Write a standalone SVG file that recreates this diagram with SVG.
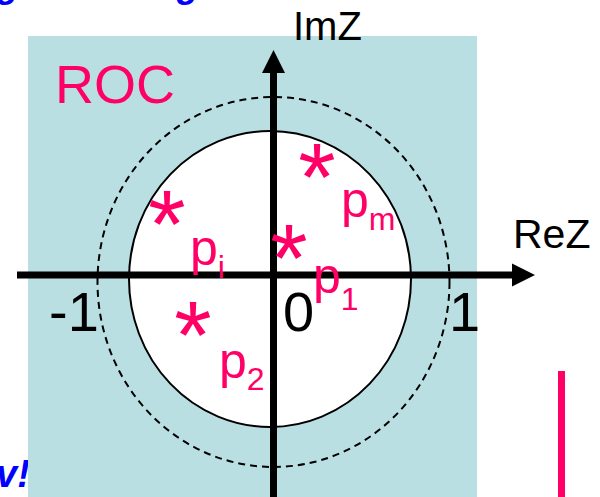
<svg xmlns="http://www.w3.org/2000/svg" width="600" height="497" viewBox="0 0 600 497">
<style>
.pk{fill:#FF0066;font-family:"Liberation Sans",Arial,sans-serif}
.bk{fill:#000;font-family:"Liberation Sans",Arial,sans-serif}
.bl{fill:#0000FF;font-family:"Liberation Sans",Arial,sans-serif;font-weight:bold;font-style:italic}
.star{font-size:96px;text-anchor:middle}
.p{font-size:50px}
.sub{font-size:32px}
.ax{stroke:#000;stroke-width:7;fill:none}
</style>
<text class="bl" x="-3" y="-3" font-size="36">g</text>
<text class="bl" x="177" y="-3" font-size="36">g</text>
<text class="bl" x="-4" y="487" font-size="38">v!</text>
<g id="roc-region">
<rect x="28" y="36" width="449" height="461" fill="#BADFE3"/>
</g>
<g id="outer-circle">
<ellipse cx="273.5" cy="282" rx="176" ry="185" fill="none" stroke="#000" stroke-width="2" stroke-dasharray="7 5"/>
</g>
<g id="unit-circle">
<ellipse cx="270" cy="279" rx="141" ry="148" fill="#fff" stroke="#000" stroke-width="2"/>
</g>
<g id="axes">
<line class="ax" x1="17" y1="275" x2="513" y2="275"/>
<polygon points="535,275 512,263.5 512,286.5" fill="#000"/>
<line class="ax" x1="273.5" y1="497" x2="273.5" y2="72"/>
<polygon points="273.5,50 262,73 285,73" fill="#000"/>
</g>
<g id="labels">
<text class="pk" x="55" y="103" font-size="54">ROC</text>
<text class="bk" x="293" y="40" font-size="40">ImZ</text>
<text class="bk" x="513" y="248" font-size="41">ReZ</text>
<text class="bk" x="49" y="331" font-size="56">-1</text>
<text class="bk" x="283" y="331" font-size="56">0</text>
<text class="bk" x="449" y="331" font-size="56">1</text>
</g>
<g id="poles">
<text class="pk star" x="317" y="210">*</text>
<text class="pk star" x="167" y="257">*</text>
<text class="pk star" x="289" y="291">*</text>
<text class="pk star" x="193" y="368">*</text>
<text class="pk" x="341"><tspan class="p" y="217">p</tspan><tspan class="sub" y="230">m</tspan></text>
<text class="pk" x="190"><tspan class="p" y="265">p</tspan><tspan class="sub" y="278">i</tspan></text>
<text class="pk" x="313"><tspan class="p" y="293">p</tspan><tspan class="sub" y="310">1</tspan></text>
<text class="pk" x="219"><tspan class="p" y="378">p</tspan><tspan class="sub" y="390">2</tspan></text>
</g>
<g id="marker-bar">
<line x1="561.5" y1="371" x2="561.5" y2="497" stroke="#FF0066" stroke-width="7"/>
</g>
</svg>
